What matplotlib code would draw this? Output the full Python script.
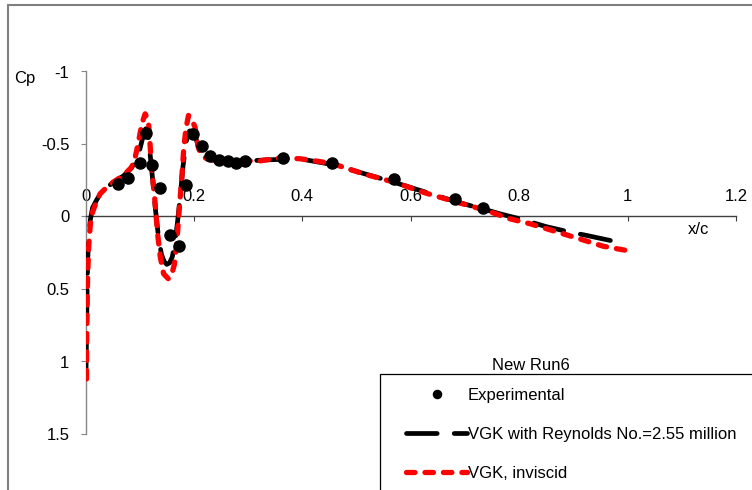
import numpy as np
import matplotlib
matplotlib.use("Agg")
import matplotlib.pyplot as plt
from matplotlib.patches import Rectangle

plt.rcParams["font.family"] = ["Liberation Sans", "DejaVu Sans"]
plt.rcParams["axes.unicode_minus"] = False

# Experimental Cp points
exp_x = [0.060, 0.079, 0.100, 0.111, 0.123, 0.137, 0.156, 0.172, 0.185, 0.198,
         0.214, 0.230, 0.246, 0.262, 0.278, 0.295, 0.364, 0.455, 0.570, 0.681, 0.734]
exp_cp = [-0.225, -0.267, -0.372, -0.578, -0.354, -0.198, 0.126, 0.205, -0.214, -0.572,
          -0.483, -0.418, -0.393, -0.381, -0.372, -0.384, -0.401, -0.372, -0.257, -0.123, -0.060]

# VGK with Reynolds No. = 2.55 million (viscous)
visc_x = [0.001, 0.002, 0.003, 0.004, 0.006, 0.009, 0.013, 0.020, 0.027, 0.036,
          0.051, 0.070, 0.085, 0.093, 0.100, 0.106, 0.111, 0.116, 0.120, 0.124,
          0.129, 0.134, 0.140, 0.145, 0.150, 0.155, 0.160, 0.165, 0.170, 0.175,
          0.180, 0.186, 0.192, 0.197, 0.203, 0.209, 0.216, 0.225, 0.240, 0.260,
          0.290, 0.330, 0.370, 0.400, 0.430, 0.460, 0.510, 0.570, 0.630, 0.685,
          0.740, 0.765, 0.800, 0.850, 0.894, 0.925, 0.955, 0.983]
visc_cp = [1.05, 0.80, 0.50, 0.30, 0.15, 0.02, -0.06, -0.11, -0.155, -0.19,
           -0.235, -0.28, -0.335, -0.39, -0.46, -0.55, -0.605, -0.55, -0.40, -0.25,
           -0.05, 0.12, 0.26, 0.31, 0.33, 0.32, 0.28, 0.18, 0.03, -0.15,
           -0.35, -0.52, -0.59, -0.59, -0.55, -0.47, -0.42, -0.40, -0.385, -0.378,
           -0.38, -0.39, -0.395, -0.395, -0.375, -0.355, -0.30, -0.235, -0.165, -0.10,
           -0.045, -0.018, 0.015, 0.07, 0.108, 0.131, 0.155, 0.177]

# VGK, inviscid
invis_x = [0.002, 0.002, 0.003, 0.004, 0.006, 0.009, 0.013, 0.020, 0.027, 0.036,
           0.051, 0.070, 0.085, 0.091, 0.097, 0.104, 0.110, 0.116, 0.119, 0.122,
           0.128, 0.133, 0.138, 0.144, 0.153, 0.159, 0.164, 0.168, 0.173, 0.178,
           0.181, 0.185, 0.190, 0.196, 0.202, 0.208, 0.214, 0.224, 0.240, 0.260,
           0.297, 0.316, 0.359, 0.396, 0.430, 0.457, 0.513, 0.570, 0.629, 0.685,
           0.740, 0.783, 0.820, 0.851, 0.906, 0.955, 0.980, 0.998]
invis_cp = [1.12, 0.90, 0.60, 0.40, 0.20, 0.05, -0.03, -0.10, -0.157, -0.19,
            -0.237, -0.283, -0.34, -0.398, -0.50, -0.64, -0.708, -0.662, -0.50, -0.34,
            -0.11, 0.12, 0.28, 0.395, 0.43, 0.40, 0.33, 0.20, -0.05, -0.29,
            -0.455, -0.60, -0.697, -0.67, -0.616, -0.478, -0.42, -0.398, -0.385, -0.38,
            -0.386, -0.38, -0.405, -0.398, -0.38, -0.363, -0.294, -0.236, -0.16, -0.099,
            -0.041, 0.016, 0.05, 0.085, 0.148, 0.205, 0.222, 0.234]

xticks = [0, 0.2, 0.4, 0.6, 0.8, 1, 1.2]
xtick_labels = ["0", "0.2", "0.4", "0.6", "0.8", "1", "1.2"]
yticks = [-1, -0.5, 0, 0.5, 1, 1.5]
ytick_labels = ["-1", "-0.5", "0", "0.5", "1", "1.5"]

W, H = 752, 490
fig = plt.figure(figsize=(W / 100, H / 100), dpi=100)
ax = fig.add_axes([85.5 / W, 1 - 434 / H, (736 - 85.5) / W, (434 - 71.5) / H])
ax.patch.set_alpha(0)

ax.plot(visc_x, visc_cp, color="black", lw=3.4, dashes=(6.5, 3.6),
        dash_capstyle="round", solid_capstyle="round",
        label="VGK with Reynolds No.=2.55 million", zorder=3)
ax.plot(invis_x, invis_cp, color="#ff0000", lw=3.8, dashes=(1.6, 1.9),
        dash_capstyle="round", label="VGK, inviscid", zorder=4)
ax.plot(exp_x, exp_cp, "o", color="black", ms=8, label="Experimental", zorder=5)

ax.set_xlim(0, 1.2)
ax.set_ylim(1.5, -1)

# x axis drawn at Cp = 0, labels above the line
ax.spines["bottom"].set_visible(False)
ax.spines["right"].set_visible(False)
ax.spines["top"].set_position(("data", 0))
ax.spines["top"].set_color("#404040")
ax.spines["left"].set_color("#868686")
ax.spines["top"].set_linewidth(1.0)
ax.spines["left"].set_linewidth(1.0)
ax.xaxis.tick_top()
ax.set_xticks(xticks)
ax.set_xticklabels(xtick_labels)
ax.tick_params(axis="x", direction="in", length=3.6, pad=9, labelsize=12,
               color="#404040")
ax.set_yticks(yticks)
ax.set_yticklabels(ytick_labels)
ax.tick_params(axis="y", direction="out", length=3.6, pad=8, labelsize=12,
               color="#868686")

fig.text(25 / W, 1 - 78 / H, "Cp", fontsize=12, ha="center", va="center")
fig.text(699 / W, 1 - 229 / H, "x/c", fontsize=12, ha="center", va="center")

# outer chart border (cropped at right and bottom)
fig.patches.append(Rectangle((8 / W, -0.1), 1.2, 1.1 - 5 / H, transform=fig.transFigure,
                             fill=False, ec="#808080", lw=1.5))

# legend box (cropped) with title above it
fig.patches.append(Rectangle((380 / W, -0.1), 1.0, 0.1 + 1 - 374 / H,
                             transform=fig.transFigure, fill=False, ec="black", lw=0.9))
fig.text(531 / W, 1 - 365 / H, "New Run6", fontsize=12, ha="center", va="center")

h, l = ax.get_legend_handles_labels()
order = [2, 0, 1]
ax.legend([h[i] for i in order], [l[i] for i in order],
          loc="upper left", bbox_to_anchor=(406 / W, 1 - 387.5 / H),
          bbox_transform=fig.transFigure, frameon=False, fontsize=12,
          borderpad=0, borderaxespad=0, handlelength=3.66, handletextpad=0.05,
          labelspacing=1.45, markerscale=0.73)

fig.savefig("out.png", dpi=100)
